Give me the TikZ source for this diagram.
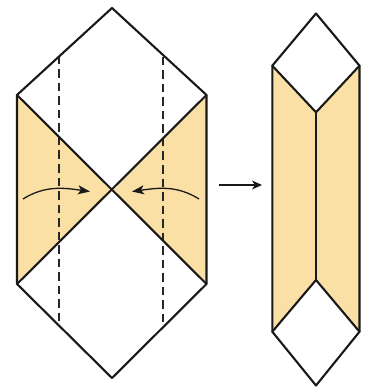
\documentclass[tikz,border=0pt]{standalone}
\usetikzlibrary{arrows.meta}
\definecolor{paper}{HTML}{FBE0A6}
\begin{document}
\begin{tikzpicture}[x=1pt,y=-1pt,
  edge/.style={line width=2.1pt,line join=round,line cap=round,draw=black!90},
  fold/.style={line width=1.8pt,draw=black!85,dash pattern=on 8.5pt off 5pt},
  move/.style={line width=1.3pt,draw=black!90,-{Stealth[length=12pt,width=9pt,inset=3pt]}},
  move2/.style={line width=1.2pt,draw=black!90,-{Stealth[length=10pt,width=9pt,inset=3pt]}}]
\useasboundingbox (0,0) rectangle (367,387);
% left sheet
\coordinate (T) at (112,8);
\coordinate (UL) at (17,95);
\coordinate (UR) at (206.5,95);
\coordinate (C) at (112,191.5);
\coordinate (LL) at (17,284);
\coordinate (LR) at (206.5,284);
\coordinate (B) at (112,378);
\fill[paper] (UL) -- (C) -- (LL) -- cycle;
\fill[paper] (UR) -- (C) -- (LR) -- cycle;
\draw[fold] (59.3,56) -- (59.3,325.5);
\draw[fold] (162.7,57) -- (162.7,327.5);
\draw[edge] (UL) -- (T) -- (UR) -- (LR) -- (B) -- (LL) -- cycle;
\draw[edge] (UL) -- (LR);
\draw[edge] (UR) -- (LL);
\coordinate (a1) at (23,199);
\coordinate (a2) at (90,191.5);
\coordinate (b1) at (199,199);
\coordinate (b2) at (132,191.5);
\draw[move] (a1) to[out=32,in=172] (a2);
\draw[move] (b1) to[out=148,in=8] (b2);
% arrow between
\coordinate (m1) at (219,185);
\coordinate (m2) at (262,185);
\draw[move2] (m1) -- (m2);
% right sheet
\coordinate (rT) at (316,13.5);
\coordinate (rUL) at (272.3,65.7);
\coordinate (rUR) at (359.5,65.7);
\coordinate (rI) at (316,112.3);
\coordinate (rJ) at (316,280);
\coordinate (rLL) at (272.3,331.7);
\coordinate (rLR) at (359.5,331.7);
\coordinate (rB) at (316,385.5);
\fill[paper] (rUL) -- (rI) -- (rJ) -- (rLL) -- cycle;
\fill[paper] (rUR) -- (rI) -- (rJ) -- (rLR) -- cycle;
\draw[edge] (rUL) -- (rT) -- (rUR) -- (rLR) -- (rB) -- (rLL) -- cycle;
\draw[edge] (rUL) -- (rI) -- (rUR);
\draw[edge] (rLL) -- (rJ) -- (rLR);
\draw[edge] (rI) -- (rJ);
\end{tikzpicture}
\end{document}
